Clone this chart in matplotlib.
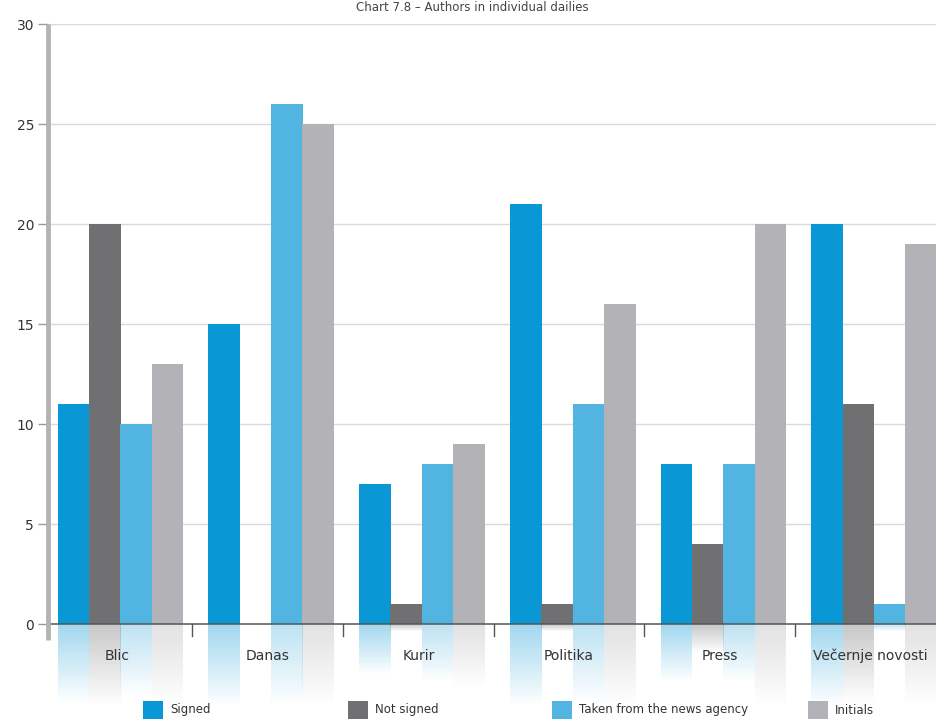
import matplotlib
matplotlib.use('Agg')
from matplotlib import pyplot as plt
from matplotlib.patches import Rectangle
import numpy as np

plt.rcParams['font.family'] = ['Liberation Sans Narrow', 'DejaVu Sans']

# data
dailies = ['Blic', 'Danas', 'Kurir', 'Politika', 'Press', 'Večernje novosti']
signed = [11, 15, 7, 21, 8, 20]
not_signed = [20, 0, 1, 1, 4, 11]
news_agency = [10, 26, 8, 11, 8, 1]
initials = [13, 25, 9, 16, 20, 19]

series_names = ['Signed', 'Not signed', 'Taken from the news agency', 'Initials']
series_vals = [signed, not_signed, news_agency, initials]
colors = ['#0a97d6', '#707072', '#52b4e0', '#b3b3b7']

W, H = 936, 721
fig = plt.figure(figsize=(W / 100, H / 100), dpi=100)

# axes: y=30 at 24px, y=0 at 624px, bottom of axes shows reflections
ymin = -4.85
ax_top = 24
ax_bot = 624 + (-ymin) * 20
ax = fig.add_axes([48 / W, 1 - ax_bot / H, (W - 48) / W, (ax_bot - ax_top) / H])
ax.set_xlim(0.043, 5.934)
ax.set_ylim(ymin, 30)

x = np.arange(len(dailies))
bw = 0.21
offs = [0.212, 0.420, 0.628, 0.836]

# gridlines
for yv in range(5, 31, 5):
    ax.axhline(yv, color='#dadada', lw=1, zorder=0)

# bars + faded reflections
nsteps = 30
for k, (vals, c) in enumerate(zip(series_vals, colors)):
    xs = x + offs[k]
    ax.bar(xs, vals, width=bw, color=c, zorder=2, linewidth=0)
    for xi, v in zip(xs, vals):
        if v <= 0:
            continue
        depth = min(0.35 * v, 4.0)
        step = depth / nsteps
        for s in range(nsteps):
            a = 0.38 * (1 - s / nsteps)
            ax.bar(xi, -step, bottom=-s * step, width=bw, color=c,
                   alpha=a, linewidth=0, zorder=1)

# axis lines
ax.axhline(0, color='#555555', lw=1.1, zorder=3)
ax.plot([0.043, 0.043], [-0.8, 30], color='#b4b4b4', lw=3.5, zorder=3,
        solid_capstyle='butt', clip_on=False)
for d in range(1, len(dailies)):
    ax.plot([d, d], [0, -0.6], color='#555555', lw=1, zorder=3)

for s in ax.spines.values():
    s.set_visible(False)
ax.set_xticks([])
ax.set_yticks(range(0, 31, 5))
ax.set_yticklabels([str(v) for v in range(0, 31, 5)], fontsize=10, color='#333333')
ax.tick_params(axis='y', length=7, width=1, color='#9a9a9a', pad=3)

for i, name in enumerate(dailies):
    ax.text(i + 0.5, -1.6, name, ha='center', va='center', fontsize=10,
            color='#333333', zorder=4)

# legend drawn by hand
leg_x = [143, 348, 552, 808]
for lx, name, c in zip(leg_x, series_names, colors):
    fig.patches.append(Rectangle((lx / W, 1 - 719 / H), 20 / W, 18 / H,
                                 transform=fig.transFigure, facecolor=c,
                                 edgecolor='none'))
    fig.text((lx + 27) / W, 1 - 710 / H, name, ha='left', va='center',
             fontsize=8.5, color='#333333')

fig.text(472 / W, 1 - 11 / H, 'Chart 7.8 – Authors in individual dailies',
         ha='center', va='baseline', fontsize=8.5, color='#444444')

fig.savefig('out.png', dpi=100)
